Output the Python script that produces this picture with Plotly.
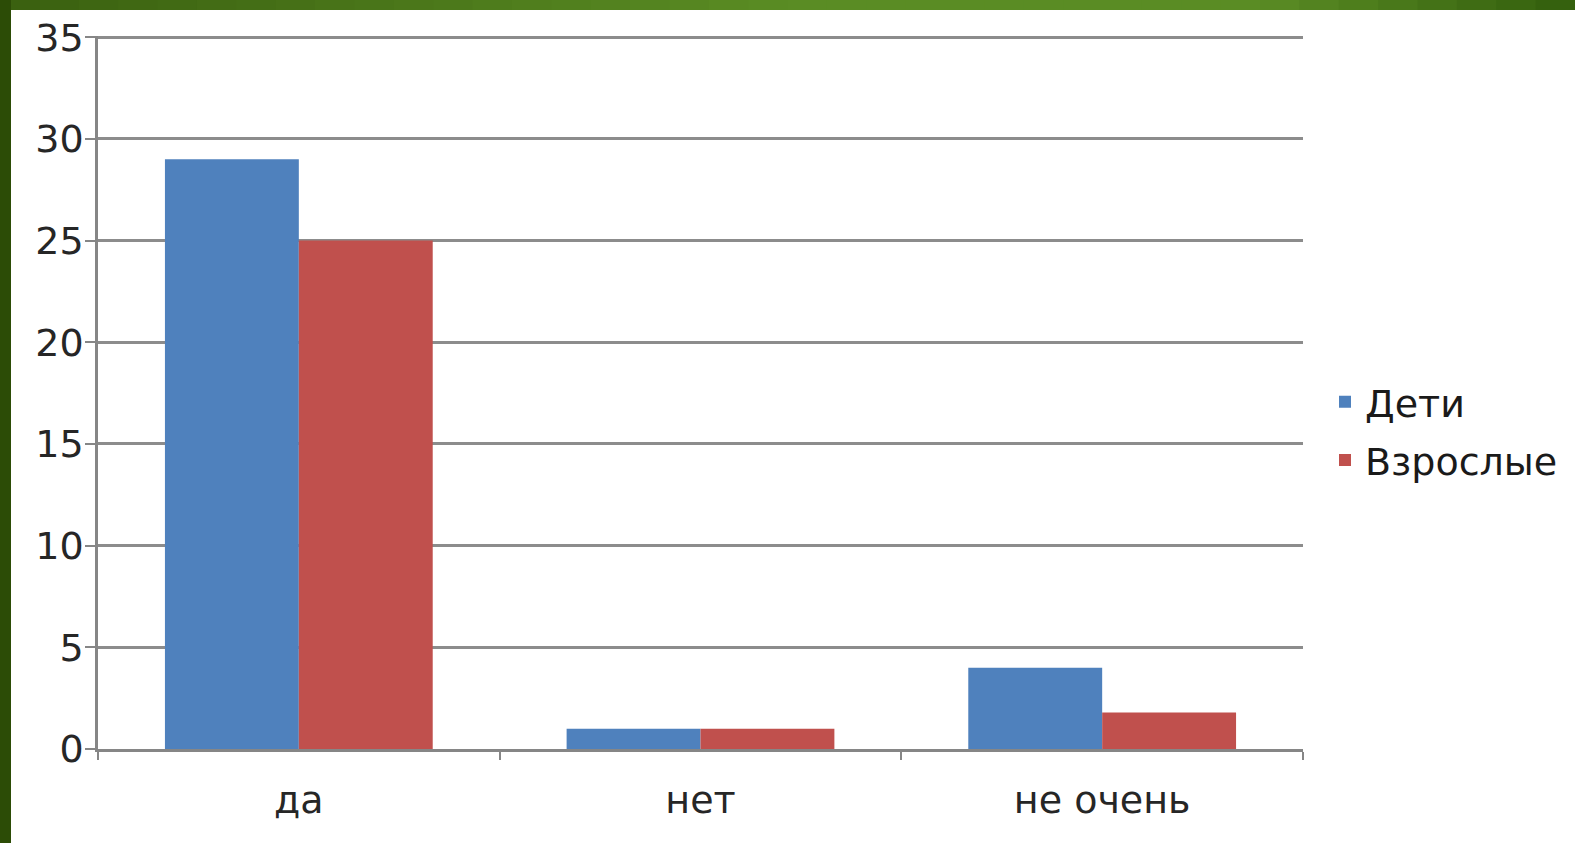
import plotly.graph_objects as go

categories = ["да", "нет", "не очень"]
deti = [29, 1, 4]
vzroslye = [25, 1, 1.8]
series_names = ["Дети", "Взрослые"]
y_ticks = [0, 5, 10, 15, 20, 25, 30, 35]

W, H = 1575, 843
L, R, T, B = 98, 1303, 36, 749

def px_x(px):
    return (px - L) / (R - L)

def px_y(py):
    return (B - py) / (B - T)

fig = go.Figure()
fig.add_trace(go.Bar(x=categories, y=deti, name=series_names[0], legendgroup="a",
                     marker=dict(color="#4f81bd", line=dict(width=0))))
fig.add_trace(go.Bar(x=categories, y=vzroslye, name=series_names[1], legendgroup="b",
                     marker=dict(color="#c0504d", line=dict(width=0))))

# green frame: top gradient band and left band
shapes = []
n = 40
def lerp(a, b, t):
    return tuple(int(round(a[i] + (b[i] - a[i]) * t)) for i in range(3))
c_left = (0x3a, 0x60, 0x0f)
c_mid = (0x5a, 0x8c, 0x24)
c_right = (0x33, 0x5e, 0x0c)
for i in range(n):
    t = (i + 0.5) / n
    if t < 0.5:
        c = lerp(c_left, c_mid, t / 0.5)
    elif t < 0.8:
        c = c_mid
    else:
        c = lerp(c_mid, c_right, (t - 0.8) / 0.2)
    x0 = W * i / n
    x1 = W * (i + 1) / n + 1
    shapes.append(dict(type="rect", xref="paper", yref="paper",
                       x0=px_x(x0), x1=px_x(x1), y0=px_y(10), y1=px_y(-2),
                       fillcolor="rgb(%d,%d,%d)" % c, line=dict(width=0), layer="above"))
shapes.append(dict(type="rect", xref="paper", yref="paper",
                   x0=px_x(-2), x1=px_x(11), y0=px_y(H + 2), y1=px_y(-2),
                   fillcolor="#2c4c06", line=dict(width=0), layer="above"))

fig.update_layout(
    width=W, height=H,
    margin=dict(l=L, r=W - R, t=T, b=H - B),
    paper_bgcolor="white", plot_bgcolor="white",
    barmode="group", bargap=1/3, bargroupgap=0,
    font=dict(family="DejaVu Sans", size=38, color="#262626"),
    showlegend=True,
    legend=dict(x=px_x(1325), y=px_y(431), xanchor="left", yanchor="middle",
                font=dict(size=38, color="#1a1a1a"), itemwidth=30,
                bgcolor="rgba(0,0,0,0)", traceorder="grouped", tracegroupgap=6),
    xaxis=dict(showline=True, linecolor="#868686", linewidth=2.5,
               ticks="outside", tickson="boundaries", ticklen=8, tickwidth=2,
               tickcolor="#868686", showgrid=False, ticklabelstandoff=16,
               tickfont=dict(size=38, color="#262626")),
    yaxis=dict(range=[0, 35.06], tickvals=y_ticks, showline=True, linecolor="#868686",
               linewidth=2.5, ticks="outside", ticklen=10, tickwidth=2,
               tickcolor="#868686", showgrid=True, gridcolor="#8c8c8c", gridwidth=2.5,
               zeroline=False, ticklabelstandoff=-6,
               tickfont=dict(size=38, color="#262626")),
    shapes=shapes,
)

fig.write_html("out.html")
